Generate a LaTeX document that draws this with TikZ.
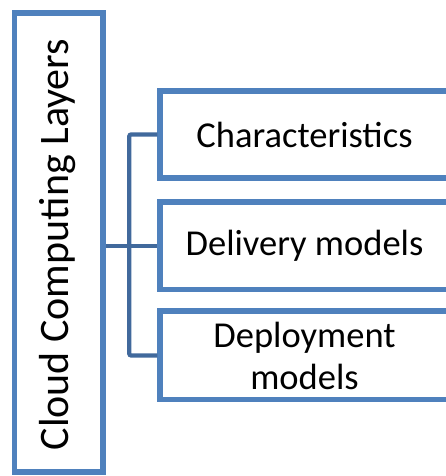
\documentclass[tikz,border=0pt]{standalone}
\usepackage{fontspec}
\setmainfont{Carlito}
\definecolor{boxblue}{HTML}{4F81BD}
\definecolor{linkblue}{HTML}{41699C}
\begin{document}
\begin{tikzpicture}[x=1pt,y=1pt,
  layerbox/.style={draw=boxblue, line width=5.5pt, fill=white, inner sep=0pt, align=center},
  link/.style={draw=linkblue, line width=4.3pt, rounded corners=2pt}]
\useasboundingbox (0,0) rectangle (446,476);
\clip (0,0) rectangle (446,476);
% main column
\node[layerbox, minimum width=88.5pt, minimum height=459pt] (L) at (58.75,233.5) {};
\node[rotate=90, font=\fontsize{42}{48}\selectfont] (Ltext) at (58,231.5) {Cloud Computing Layers};
% sub-layers
\node[layerbox, minimum width=289pt, minimum height=87pt, font=\fontsize{36.5}{41}\selectfont] (b1) at (304.5,341.5) {Characteristics};
\node[layerbox, minimum width=289pt, minimum height=87.5pt, font=\fontsize{36.5}{41}\selectfont] (b2) at (304.5,230.25) {Delivery models};
\node[layerbox, minimum width=289pt, minimum height=88.5pt, font=\fontsize{36.5}{42}\selectfont] (b3) at (304.5,120.5) {Deployment\\models};
% connectors
\draw[link] (b1.west) -- ++(-28,0) |- (b3.west);
\draw[link] (L.east |- b2.west) -- (b2.west);
\end{tikzpicture}
\end{document}
